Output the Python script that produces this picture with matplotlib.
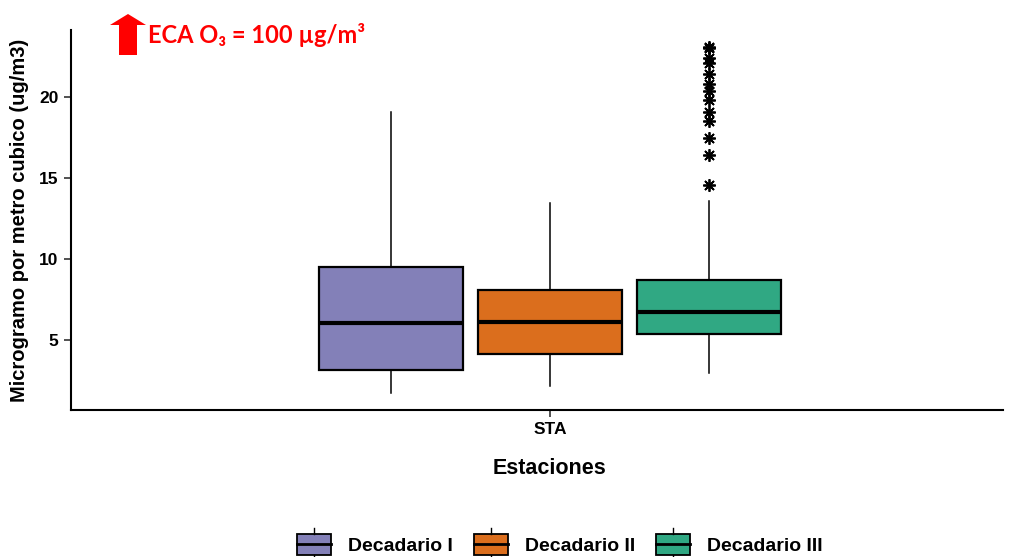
import matplotlib
matplotlib.use("Agg")
import matplotlib.pyplot as plt
from matplotlib.patches import Rectangle, Polygon
from matplotlib.lines import Line2D
from matplotlib.legend_handler import HandlerBase

plt.rcParams['font.family'] = ['Liberation Sans', 'DejaVu Sans']

# ---- data ----
category = "STA"
series = ["Decadario I", "Decadario II", "Decadario III"]
colors = ["#8380B8", "#DB6E1D", "#30A883"]
whislo = [1.73, 2.16, 2.96]
q1 = [3.15, 4.14, 5.37]
med = [6.05, 6.10, 6.73]
q3 = [9.50, 8.09, 8.70]
whishi = [19.07, 13.46, 13.60]
outliers_III = [23.1, 23.0, 22.4, 22.1, 21.4, 20.8, 20.4, 19.8, 19.1, 18.5, 17.5, 16.4, 14.6]
fliers = [[], [], outliers_III]
yticks = [5, 10, 15, 20]

W, H = 1015, 557
fig = plt.figure(figsize=(W/100, H/100), dpi=100)
ax = fig.add_axes([71/W, 1-410/H, (1003-71)/W, (410-30)/H])

positions = [1 - 0.205, 1.0, 1 + 0.205]
stats = []
for i in range(3):
    stats.append(dict(med=med[i], q1=q1[i], q3=q3[i], whislo=whislo[i],
                      whishi=whishi[i], fliers=fliers[i], label=series[i]))
bp = ax.bxp(stats, positions=positions, widths=0.185, patch_artist=True,
            showcaps=False,
            boxprops=dict(linewidth=1.6, edgecolor="black"),
            medianprops=dict(color="black", linewidth=3),
            whiskerprops=dict(color="black", linewidth=1.1),
            flierprops=dict(marker=(8, 2, 0), markersize=9, markeredgecolor="black",
                            markerfacecolor="black", markeredgewidth=1.3, linestyle="none"))
for p, c in zip(bp["boxes"], colors):
    p.set_facecolor(c)

ax.set_xlim(1 - 479/777, 1 + 453/777)
ax.set_ylim(0.68, 24.14)
ax.set_xticks([1.0])
ax.set_xticklabels([category], fontsize=12.5, fontweight="bold")
ax.set_yticks(yticks)
ax.set_yticklabels([str(t) for t in yticks], fontsize=12.5, fontweight="bold")
ax.spines["top"].set_visible(False)
ax.spines["right"].set_visible(False)
ax.spines["left"].set_linewidth(1.5)
ax.spines["bottom"].set_linewidth(1.5)
ax.tick_params(axis="both", length=5, width=1.2, color="#333333", pad=4)
ax.set_ylabel("Microgramo por metro cubico (ug/m3)", fontsize=14.5, fontweight="bold", labelpad=7)
fig.text(550/W, 1-468/H, "Estaciones", fontsize=15.5, fontweight="bold", ha="center", va="center")

# annotation arrow and text (pixel coordinates -> figure fraction)
def P(x, y):
    return (x/W, 1 - y/H)
arrow_pts = [P(119, 55), P(137, 55), P(137, 25), P(146, 25), P(128, 14), P(110, 25), P(119, 25)]
fig.patches.append(Polygon(arrow_pts, closed=True, facecolor="#FF0000", edgecolor="none",
                           transform=fig.transFigure, figure=fig))
fig.text(148/W, 1-35/H, "ECA O₃ = 100 µg/m³", color="#FF0000", fontsize=17,
         fontweight="bold", family=["Lato", "DejaVu Sans"], va="center", ha="left")

# legend
class BoxHandler(HandlerBase):
    def create_artists(self, legend, orig_handle, xdescent, ydescent, width, height, fontsize, trans):
        c = orig_handle.get_facecolor()
        x0, y0 = -xdescent, -ydescent
        r = Rectangle((x0, y0), width, height, facecolor=c,
                      edgecolor="black", linewidth=1.3, transform=trans)
        xm = x0 + width/2
        l1 = Line2D([xm, xm], [y0 + height, y0 + height*1.3], color="black", lw=1, transform=trans)
        l2 = Line2D([xm, xm], [y0 - height*0.3, y0], color="black", lw=1, transform=trans)
        l3 = Line2D([x0, x0 + width], [y0 + height/2]*2, color="black", lw=2, transform=trans)
        return [r, l1, l2, l3]

handles = [Rectangle((0, 0), 1, 1, facecolor=c) for c in colors]
fig.legend(handles, series, handler_map={Rectangle: BoxHandler()}, loc="center",
           bbox_to_anchor=(560/W, 1-544.5/H), ncol=3, frameon=False,
           prop=dict(weight="bold", size=14), handlelength=1.75, handleheight=1.25,
           columnspacing=1.1, handletextpad=0.85)

fig.savefig("out.png", dpi=100)
